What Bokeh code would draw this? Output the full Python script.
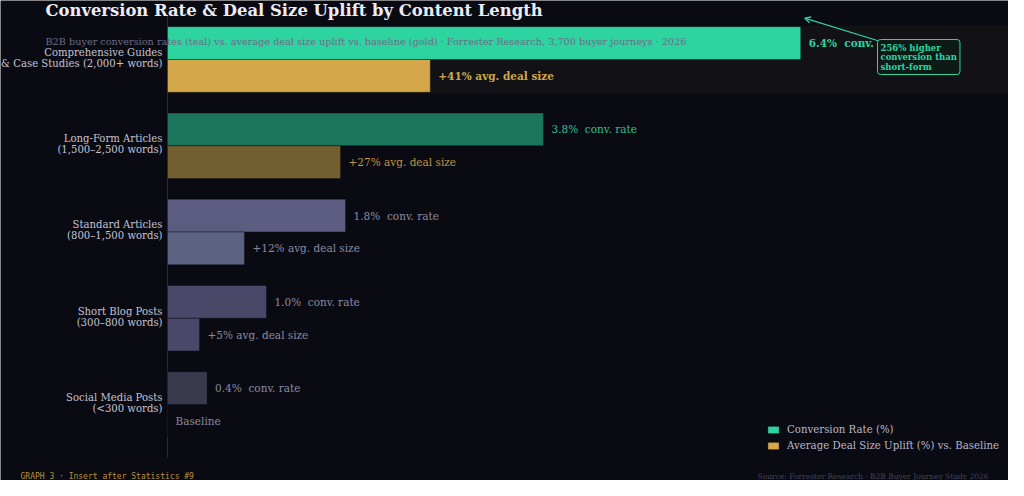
from bokeh.plotting import figure
from bokeh.models import (Range1d, Label, BoxAnnotation, Arrow, OpenHead,
                          Legend, LegendItem, ColumnDataSource)
from bokeh.core.properties import value
from bokeh.embed import file_html
from bokeh.resources import INLINE

# ---------------- data ----------------
categories = [
    "Comprehensive Guides\n& Case Studies (2,000+ words)",
    "Long-Form Articles\n(1,500–2,500 words)",
    "Standard Articles\n(800–1,500 words)",
    "Short Blog Posts\n(300–800 words)",
    "Social Media Posts\n(<300 words)",
]
conv_rate = [6.4, 3.8, 1.8, 1.0, 0.4]          # %
deal_uplift = [41, 27, 12, 5, 0]               # % vs baseline
conv_colors = ["#2dd4a0", "#1c765b", "#5c5c80", "#4a4868", "#3a3a4f"]
deal_colors = ["#d4a84a", "#735e30", "#5c6382", "#4a4868", "#3a3a4f"]
conv_text_colors = ["#2dd4a0", "#2cc094", "#8a8aa2", "#8a8aa2", "#8a8aa2"]
deal_text_colors = ["#d4a84a", "#c0954a", "#8a8aa2", "#8a8aa2", "#8a8aa2"]
legend_labels = ["Conversion Rate (%)", "Average Deal Size Uplift (%) vs. Baseline"]
title = "Conversion Rate & Deal Size Uplift by Content Length"
subtitle = ("B2B buyer conversion rates (teal) vs. average deal size uplift vs. baseline (gold) · "
            "Forrester Research, 3,700 buyer journeys · 2026")
callout = "256% higher\nconversion than\nshort-form"
footer_left = "GRAPH 3 · Insert after Statistics #9"
footer_right = "Source: Forrester Research · B2B Buyer Journey Study 2026"

# ---------------- layout (pixel geometry of the plotting area) ----------------
W, H = 1008, 480
FL, FT, FW, FH = 167, 15, 841, 442
XMAX = 8.5
DEAL_MAX = 131.2
YTOP = 4.51
PX_PER_Y = 86.25
YBOT = YTOP - FH / PX_PER_Y
PX_PER_X = FW / XMAX
PX_PER_DEAL = FW / DEAL_MAX

def dx(cx):
    return (cx - FL) / PX_PER_X

def dy(cy):
    return YTOP - (cy - FT) / PX_PER_Y

BG = "#0a0a12"
SERIF = "DejaVu Serif"
BAR_H = 0.38
NB = "\u00a0"

n = len(categories)
pos = [n - 1 - i for i in range(n)]

src = ColumnDataSource(dict(
    y_conv=[p_ + BAR_H / 2 for p_ in pos],
    y_deal=[p_ - BAR_H / 2 for p_ in pos],
    conv=conv_rate,
    deal=deal_uplift,
    conv_color=conv_colors,
    deal_color=deal_colors,
    conv_tc=conv_text_colors,
    deal_tc=deal_text_colors,
    conv_label=[f"{v:.1f}%{NB} conv. rate" for v in conv_rate],
    deal_label=[("Baseline" if v == 0 else f"+{v}% avg. deal size") for v in deal_uplift],
    weight=["bold" if i == 0 else "normal" for i in range(n)],
))

p = figure(width=W, height=H, output_backend="svg", toolbar_location=None,
           x_range=Range1d(dx(0), dx(W)), y_range=Range1d(dy(H), dy(0)),
           background_fill_color=BG, border_fill_color=BG,
           min_border=0)
p.extra_x_ranges = {"deal": Range1d(-FL / PX_PER_DEAL, (W - FL) / PX_PER_DEAL)}
p.axis.visible = False
p.grid.visible = False
p.outline_line_color = None

# highlight band for the top category
p.add_layout(BoxAnnotation(left=0, bottom=pos[0] - 0.39, top=pos[0] + 0.39,
                           fill_color="#111116", fill_alpha=1, line_color=None,
                           level="underlay"))

# left spine
p.segment(x0=[0], y0=[YBOT], x1=[0], y1=[YTOP], line_color="#2a2a36", line_width=1)

r_conv = p.hbar(y="y_conv", right="conv", left=0, height=BAR_H, source=src,
                fill_color="conv_color", line_color="#0a0a12", line_alpha=0.4)
r_deal = p.hbar(y="y_deal", right="deal", left=0, height=BAR_H, source=src,
                x_range_name="deal",
                fill_color="deal_color", line_color="#0a0a12", line_alpha=0.4)

p.text(x="conv", y="y_conv", text="conv_label", source=src, x_offset=8,
       text_color="conv_tc", text_font=value(SERIF), text_font_size="10.5px",
       text_font_style="weight", text_baseline="middle", text_align="left")
p.text(x="deal", y="y_deal", text="deal_label", source=src, x_offset=8,
       x_range_name="deal",
       text_color="deal_tc", text_font=value(SERIF), text_font_size="10.5px",
       text_font_style="weight", text_baseline="middle", text_align="left")

# category labels
p.text(x=[dx(162)] * n, y=[yy + 0.02 for yy in pos], text=categories,
       text_align="right", text_baseline="middle", text_font=value(SERIF),
       text_font_size="10.1px", text_color="#c4c4d2", text_line_height=1.0)

# title and subtitle
p.add_layout(Label(x=dx(45), y=dy(10), text=title, text_font=SERIF,
                   text_font_size="16.4px", text_font_style="bold",
                   text_color="#ececf4", text_baseline="middle"))
p.add_layout(Label(x=dx(45), y=dy(41), text=subtitle, text_font=SERIF,
                   text_font_size="9.7px", text_color="#6c6c86", text_baseline="middle"))

# callout
p.add_layout(Arrow(end=OpenHead(size=6, line_color="#2dd4a0", line_width=1.3),
                   x_start=dx(880), y_start=dy(41),
                   x_end=conv_rate[0] + 0.04, y_end=pos[0] + 0.48,
                   line_color="#2dd4a0", line_width=1.3))
p.add_layout(Label(x=dx(877), y=dy(39), text=callout, text_font=SERIF,
                   text_font_size="8.5px", text_font_style="bold",
                   text_color="#2dd4a0", text_align="left", text_baseline="top",
                   text_line_height=0.95,
                   background_fill_color="#0d1a16", border_line_color="#2dd4a0",
                   border_line_width=1, padding=3, border_radius=3))

# legend
legend = Legend(items=[LegendItem(label=legend_labels[0], renderers=[r_conv], index=0),
                       LegendItem(label=legend_labels[1], renderers=[r_deal], index=0)],
                location=(766, 29), background_fill_alpha=0, border_line_color=None,
                label_text_font=SERIF, label_text_font_size="10.2px",
                label_text_color="#b8b8c8", glyph_width=14, glyph_height=9,
                label_height=12, spacing=4, label_standoff=7, padding=0, margin=0)
p.add_layout(legend)

# footers
p.add_layout(Label(x=dx(20), y=dy(476), text=footer_left, text_font="DejaVu Sans Mono",
                   text_font_size="8px", text_color="#b8923a", text_baseline="middle"))
p.add_layout(Label(x=dx(988), y=dy(476), text=footer_right, text_font=SERIF,
                   text_font_size="7.5px", text_color="#44445a", text_baseline="middle",
                   text_align="right"))

open("out.html", "w").write(file_html(p, INLINE))
